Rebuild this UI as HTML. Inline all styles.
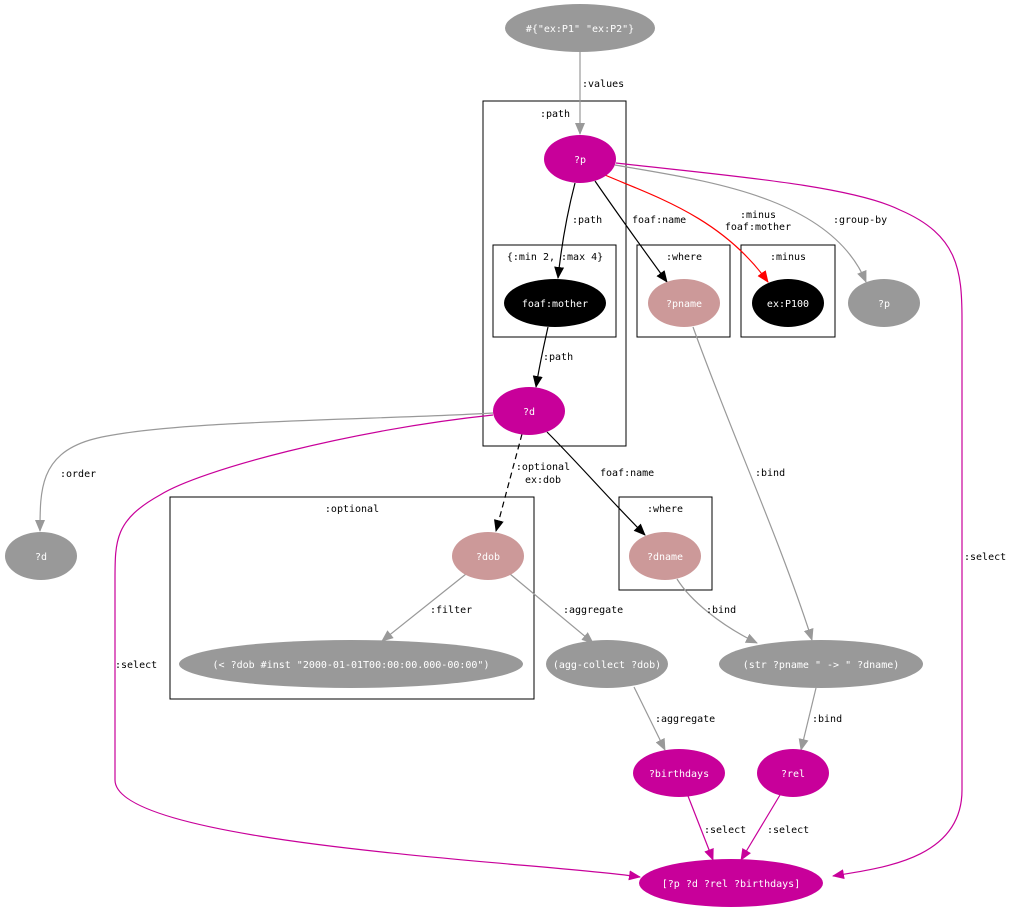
<!DOCTYPE html>
<html><head><meta charset="utf-8"><style>
html,body{margin:0;padding:0;background:#fff}
svg{display:block}
text{font-family:"DejaVu Sans Mono","Liberation Mono",monospace;font-size:10px}
.n{fill:#fff;text-anchor:middle}
.l{fill:#000}
.c{fill:#000;text-anchor:middle}
</style></head><body>
<svg width="1010" height="913" viewBox="0 0 1010 913" xmlns="http://www.w3.org/2000/svg">
<defs>
<marker id="ag" markerWidth="12" markerHeight="10" refX="11" refY="5" orient="auto" markerUnits="userSpaceOnUse"><path d="M0,0 L12,5 L0,10z" fill="#999"/></marker>
<marker id="ab" markerWidth="12" markerHeight="10" refX="11" refY="5" orient="auto" markerUnits="userSpaceOnUse"><path d="M0,0 L12,5 L0,10z" fill="#000"/></marker>
<marker id="ar" markerWidth="12" markerHeight="10" refX="11" refY="5" orient="auto" markerUnits="userSpaceOnUse"><path d="M0,0 L12,5 L0,10z" fill="#f00"/></marker>
<marker id="am" markerWidth="12" markerHeight="10" refX="11" refY="5" orient="auto" markerUnits="userSpaceOnUse"><path d="M0,0 L12,5 L0,10z" fill="#c8009a"/></marker>
</defs>
<g fill="none" stroke="#000" stroke-width="1">
<rect x="483" y="101" width="143" height="345"/>
<rect x="493" y="245" width="123" height="92"/>
<rect x="637" y="245" width="93" height="92"/>
<rect x="741" y="245" width="94" height="92"/>
<rect x="170" y="497" width="364" height="202"/>
<rect x="619" y="497" width="93" height="93"/>
</g>
<text class="c" x="555" y="117">:path</text>
<text class="c" x="555" y="260">{:min 2, :max 4}</text>
<text class="c" x="684" y="260">:where</text>
<text class="c" x="788" y="260">:minus</text>
<text class="c" x="352" y="512">:optional</text>
<text class="c" x="665" y="512">:where</text>

<g fill="none" stroke-width="1.2">
<path d="M580,52 L580,134" stroke="#999" marker-end="url(#ag)"/>
<path d="M575,183 C568,210 562,240 558,278" stroke="#000" marker-end="url(#ab)"/>
<path d="M548,327 C544,345 540,362 536,387" stroke="#000" marker-end="url(#ab)"/>
<path d="M595,181 C615,210 640,245 667,282" stroke="#000" marker-end="url(#ab)"/>
<path d="M598,172 C650,195 720,215 768,282" stroke="#f00" marker-end="url(#ar)"/>
<path d="M615,165 C700,180 830,195 866,282" stroke="#999" marker-end="url(#ag)"/>
<path d="M616,163 C720,175 850,185 900,210 C958,235 962,270 962,320 L962,790 C962,860 880,868 833,876" stroke="#c8009a" marker-end="url(#am)"/>
<path d="M493,413 C380,420 160,420 90,440 C40,455 40,490 40,531" stroke="#999" marker-end="url(#ag)"/>
<path d="M493,415 C350,430 200,470 160,495 C115,520 115,540 115,580 L115,780 C115,845 540,862 640,877" stroke="#c8009a" marker-end="url(#am)"/>
<path d="M522,434 L496,531" stroke="#000" stroke-dasharray="6,4" marker-end="url(#ab)"/>
<path d="M547,432 C580,465 610,500 645,535" stroke="#000" marker-end="url(#ab)"/>
<path d="M693,327 C730,430 780,540 812,640" stroke="#999" marker-end="url(#ag)"/>
<path d="M677,579 C690,600 720,625 757,643" stroke="#999" marker-end="url(#ag)"/>
<path d="M466,574 L382,641" stroke="#999" marker-end="url(#ag)"/>
<path d="M510,574 L593,643" stroke="#999" marker-end="url(#ag)"/>
<path d="M634,687 L665,750" stroke="#999" marker-end="url(#ag)"/>
<path d="M816,688 L801,750" stroke="#999" marker-end="url(#ag)"/>
<path d="M688,796 L713,860" stroke="#c8009a" marker-end="url(#am)"/>
<path d="M780,795 L741,860" stroke="#c8009a" marker-end="url(#am)"/>
</g>

<text class="l" x="582" y="87">:values</text>
<text class="l" x="572" y="223">:path</text>
<text class="l" x="543" y="360">:path</text>
<text class="l" x="632" y="223">foaf:name</text>
<text class="c" x="758" y="218">:minus</text>
<text class="c" x="758" y="230">foaf:mother</text>
<text class="l" x="833" y="223">:group-by</text>
<text class="l" x="964" y="560">:select</text>
<text class="l" x="60" y="477">:order</text>
<text class="l" x="115" y="668">:select</text>
<text class="c" x="543" y="470">:optional</text>
<text class="c" x="543" y="483">ex:dob</text>
<text class="l" x="600" y="476">foaf:name</text>
<text class="l" x="755" y="476">:bind</text>
<text class="l" x="706" y="613">:bind</text>
<text class="l" x="430" y="613">:filter</text>
<text class="l" x="563" y="613">:aggregate</text>
<text class="l" x="655" y="722">:aggregate</text>
<text class="l" x="812" y="722">:bind</text>
<text class="l" x="704" y="833">:select</text>
<text class="l" x="767" y="833">:select</text>

<ellipse cx="580" cy="28" rx="75" ry="24" fill="#999"/><text class="n" x="580" y="32">#{"ex:P1" "ex:P2"}</text>
<ellipse cx="580" cy="159" rx="36" ry="24" fill="#c8009a"/><text class="n" x="580" y="163">?p</text>
<ellipse cx="555" cy="303" rx="51" ry="24" fill="#000"/><text class="n" x="555" y="307">foaf:mother</text>
<ellipse cx="529" cy="411" rx="36" ry="24" fill="#c8009a"/><text class="n" x="529" y="415">?d</text>
<ellipse cx="684" cy="303" rx="36" ry="24" fill="#cc9999"/><text class="n" x="684" y="307">?pname</text>
<ellipse cx="788" cy="303" rx="36" ry="24" fill="#000"/><text class="n" x="788" y="307">ex:P100</text>
<ellipse cx="884" cy="303" rx="36" ry="24" fill="#999"/><text class="n" x="884" y="307">?p</text>
<ellipse cx="41" cy="556" rx="36" ry="24" fill="#999"/><text class="n" x="41" y="560">?d</text>
<ellipse cx="488" cy="556" rx="36" ry="24" fill="#cc9999"/><text class="n" x="488" y="560">?dob</text>
<ellipse cx="665" cy="556" rx="36" ry="24" fill="#cc9999"/><text class="n" x="665" y="560">?dname</text>
<ellipse cx="351" cy="664" rx="172" ry="24" fill="#999"/><text class="n" x="351" y="668">(&lt; ?dob #inst "2000-01-01T00:00:00.000-00:00")</text>
<ellipse cx="607" cy="664" rx="61" ry="24" fill="#999"/><text class="n" x="607" y="668">(agg-collect ?dob)</text>
<ellipse cx="821" cy="664" rx="102" ry="24" fill="#999"/><text class="n" x="821" y="668">(str ?pname " -&gt; " ?dname)</text>
<ellipse cx="679" cy="773" rx="46" ry="24" fill="#c8009a"/><text class="n" x="679" y="777">?birthdays</text>
<ellipse cx="793" cy="773" rx="36" ry="24" fill="#c8009a"/><text class="n" x="793" y="777">?rel</text>
<ellipse cx="731" cy="883" rx="92" ry="24" fill="#c8009a"/><text class="n" x="731" y="887">[?p ?d ?rel ?birthdays]</text>
</svg>
</body></html>
